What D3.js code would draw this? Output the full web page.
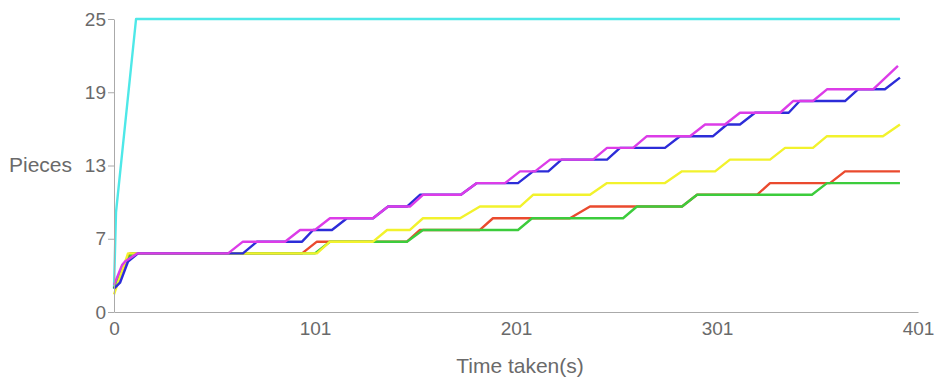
<!DOCTYPE html>
<html>
<head>
<meta charset="utf-8">
<script src="https://cdn.jsdelivr.net/npm/d3@7"></script>
<style>
  html, body { margin: 0; padding: 0; background: #fff; }
  svg { display: block; }
  .axis text { font-family: "Liberation Sans", Arial, sans-serif; font-size: 19px; fill: #6a6a6a; }
  .axis path, .axis line { stroke: #aaa; }
  .label { font-family: "Liberation Sans", Arial, sans-serif; font-size: 21px; fill: #6a6a6a; }
</style>
</head>
<body>
<svg id="chart" width="944" height="380"></svg>
<script>
// ---- data: [time (s), pieces] ----
const cyanSeries = [[0,2],[1,8.5],[11,25],[392,25]];
const redSeries = [[0,2],[4,3.5],[8,5],[93.8,5],[101.2,6],[146.1,6],[152.6,7],[182.5,7],[189,8],[227.4,8],[237.4,9],[283.3,9],[290.8,10],[320.7,10],[327.2,11],[357.1,11],[364.6,12],[392,12]];
const greenSeries = [[0,2],[4,3.8],[9,5],[100.2,5],[107.7,6],[146.1,6],[154.1,7],[201.5,7],[208.5,8],[253.9,8],[260.8,9],[283.3,9],[290.8,10],[348.1,10],[355.6,11],[392,11]];
const yellowSeries = [[0,1.5],[3,3],[7,5],[101.2,5],[107.7,6],[129.2,6],[136.2,7],[147.6,7],[154.1,8],[172.6,8],[182.5,9],[202.5,9],[209,10],[237.4,10],[245.9,11],[274.8,11],[283.3,12],[299.8,12],[307.2,13],[327.2,13],[334.7,14],[348.6,14],[355.6,15],[383.5,15],[392,16]];
const blueSeries = [[0,2],[3,2.5],[7,4.3],[12,5],[64.3,5],[71.3,6],[93.8,6],[99.3,7],[108.7,7],[116.2,8],[129.2,8],[136.7,9],[146.1,9],[152.6,10],[173,10],[181,11],[201.5,11],[209,12],[216.6,12],[223.2,13],[245.9,13],[252.4,14],[274.8,14],[282.3,15],[298.8,15],[305.7,16],[312.2,16],[319.7,17],[336.5,17],[342,18],[364.6,18],[371.1,19],[384.5,19],[392,20]];
const magentaSeries = [[0,2.3],[4,4],[5.5,4.3],[11.5,5],[56.9,5],[64.3,6],[85.3,6],[92.8,7],[100.2,7],[107.7,8],[129.2,8],[136.7,9],[147.6,9],[154.1,10],[173,10],[181,11],[195,11],[202.5,12],[210,12],[217.5,13],[238.9,13],[245.9,14],[258.9,14],[265.8,15],[287.3,15],[294.8,16],[304.7,16],[312.2,17],[332.2,17],[338.7,18],[348.6,18],[355.6,19],[378.6,19],[391,21]];

const seriesNames = ["cyan","red","green","yellow","blue","magenta"];
const seriesColors = ["#4ee8e8","#ea4a2e","#3ccc3c","#f2f22c","#2c2cd8","#dc3ce8"];
const seriesData = [cyanSeries, redSeries, greenSeries, yellowSeries, blueSeries, magentaSeries];

const xMax = 401, yMax = 25;
const xTickLabels = ["0","101","201","301","401"];
const yTickLabels = ["0","7","13","19","25"];
const xTitle = "Time taken(s)";
const yTitle = "Pieces";

// ---- layout ----
const margin = {left: 114, top: 19, right: 26, bottom: 68};
const W = 944, H = 380;
const svg = d3.select("#chart");

const x = d3.scaleLinear().domain([0, xMax]).range([margin.left, W - margin.right]);
const y = d3.scaleLinear().domain([0, yMax]).range([H - margin.bottom, margin.top]);

const xTickVals = xTickLabels.map((d, i) => i * xMax / (xTickLabels.length - 1));
const yTickVals = yTickLabels.map((d, i) => i * yMax / (yTickLabels.length - 1));

const line = d3.line().x(d => x(d[0])).y(d => y(d[1]));

seriesData.forEach((s, i) => {
  svg.append("path")
    .datum(s)
    .attr("fill", "none")
    .attr("stroke", seriesColors[i])
    .attr("stroke-width", 2.4)
    .attr("stroke-linejoin", "round")
    .attr("d", line);
});

svg.append("g")
  .attr("class", "axis")
  .attr("transform", `translate(0,${H - margin.bottom})`)
  .call(d3.axisBottom(x).tickValues(xTickVals).tickFormat((d, i) => xTickLabels[i]).tickSize(0).tickPadding(10));

svg.append("g")
  .attr("class", "axis")
  .attr("transform", `translate(${margin.left},0)`)
  .call(d3.axisLeft(y).tickValues(yTickVals).tickFormat((d, i) => yTickLabels[i]).tickSizeInner(6).tickSizeOuter(0).tickPadding(2));

svg.append("text")
  .attr("class", "label")
  .attr("x", 520)
  .attr("y", 373)
  .attr("text-anchor", "middle")
  .text(xTitle);

svg.append("text")
  .attr("class", "label")
  .attr("x", 72)
  .attr("y", y(12.5))
  .attr("dy", "0.32em")
  .attr("text-anchor", "end")
  .text(yTitle);
</script>
</body>
</html>
